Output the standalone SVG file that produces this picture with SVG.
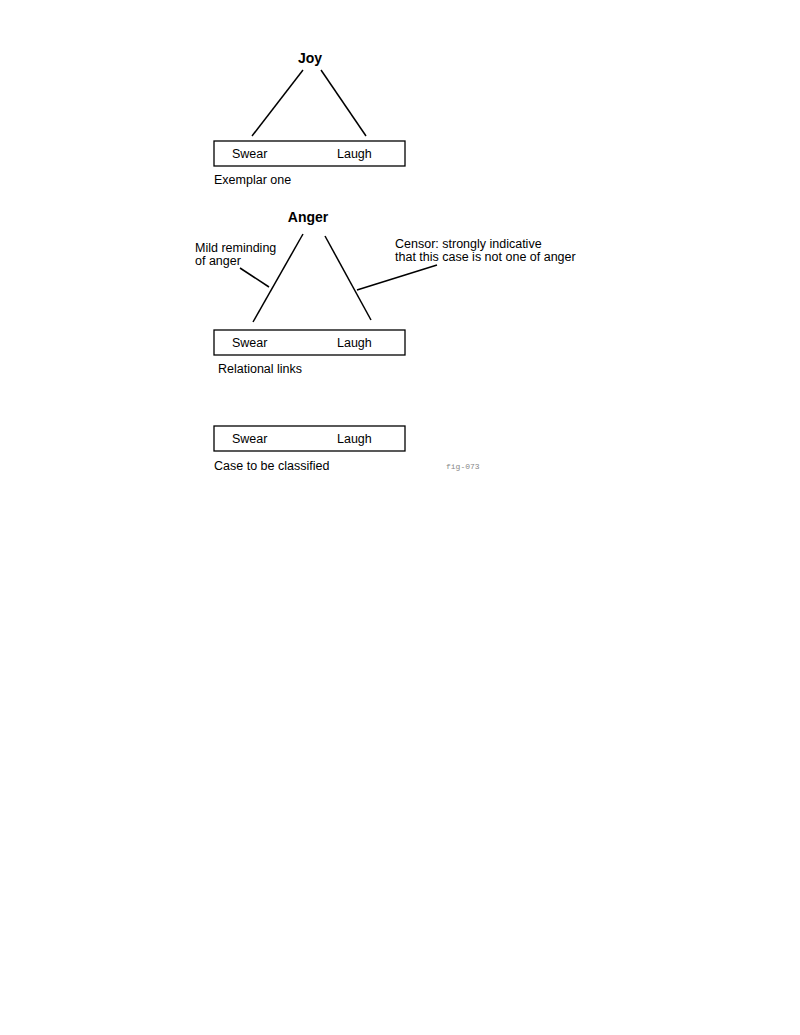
<svg xmlns="http://www.w3.org/2000/svg" width="800" height="1035" viewBox="0 0 800 1035">
<style>
.t{font-family:"Liberation Sans",Arial,sans-serif;font-size:12.5px;fill:#000}
.h{font-family:"Liberation Sans",Arial,sans-serif;font-size:14px;font-weight:bold;fill:#000;text-anchor:middle}
.b{fill:#fff;stroke:#000;stroke-width:1.3}
.l{stroke:#000;stroke-width:1.5;fill:none}
.m{font-family:"Liberation Mono","Courier New",monospace;font-size:8px;fill:#888}
</style>
<rect width="800" height="1035" fill="#fff"/>
<g id="joy"><text class="h" x="310" y="63">Joy</text></g>
<g id="exemplar">
<rect class="b" x="214" y="141" width="191" height="25"/>
<text class="t" x="232" y="158">Swear</text>
<text class="t" x="337" y="158">Laugh</text>
<text class="t" x="214" y="184">Exemplar one</text>
</g>
<g id="anger"><text class="h" x="308" y="222">Anger</text></g>
<g id="relational">
<rect class="b" x="214" y="330" width="191" height="25"/>
<text class="t" x="232" y="347">Swear</text>
<text class="t" x="337" y="347">Laugh</text>
<text class="t" x="218" y="373">Relational links</text>
</g>
<g id="mild"><text class="t" x="195" y="252">Mild reminding</text><text class="t" x="195" y="265">of anger</text></g>
<g id="censor"><text class="t" x="395" y="248">Censor: strongly indicative</text><text class="t" x="395" y="261">that this case is not one of anger</text></g>
<g id="case">
<rect class="b" x="214" y="426" width="191" height="25"/>
<text class="t" x="232" y="443">Swear</text>
<text class="t" x="337" y="443">Laugh</text>
<text class="t" x="214" y="470">Case to be classified</text>
</g>
<g id="figlabel"><text class="m" x="446" y="469">fig-073</text></g>
<g id="connectors">
<line class="l" x1="303" y1="70" x2="252" y2="136"/>
<line class="l" x1="321" y1="70" x2="366" y2="136"/>
<line class="l" x1="303" y1="234" x2="253" y2="322"/>
<line class="l" x1="325" y1="236" x2="371" y2="320"/>
<line class="l" x1="240" y1="268" x2="269" y2="287"/>
<line class="l" x1="357" y1="290" x2="437" y2="265"/>
</g>
</svg>
